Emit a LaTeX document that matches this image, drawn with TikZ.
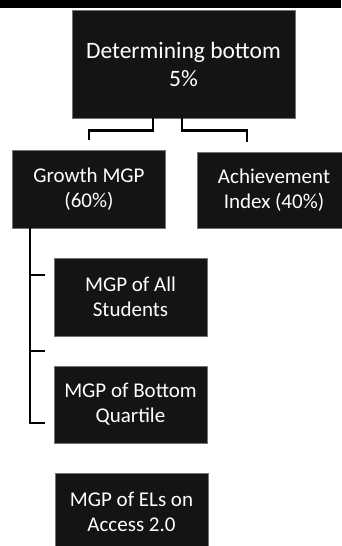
\documentclass[tikz,border=0pt]{standalone}
\usepackage{fontspec}
\setmainfont{Carlito}
\usetikzlibrary{positioning,calc}
\tikzset{
  darkbox/.style={fill=black!92, draw=black!55, line width=0.8pt, text=white,
    align=center, inner sep=2pt, minimum width=153pt, minimum height=78pt,
    font=\fontsize{21}{25}\selectfont},
  link/.style={line width=2.6pt, black},
}
\begin{document}
\begin{tikzpicture}[x=1pt,y=-1pt]
  \useasboundingbox (0,0) rectangle (341,546);
  % strip along the top edge
  \fill[black] (0,0) rectangle (341,8);
  \node[darkbox, minimum width=223pt, minimum height=108pt,
        font=\fontsize{23.5}{28}\selectfont] (top) at (183.5,64) {Determining bottom\\5\%};
  \node[darkbox] (growth) at (89,189) {Growth MGP\\(60\%)};
  \node[darkbox, minimum height=76pt] (achieve) at (274,190) {Achievement\\Index (40\%)};
  \node[darkbox] (all) at (130.5,297) {MGP of All\\Students};
  \node[darkbox, minimum height=77pt] (quart) at (130.5,404.5) {MGP of Bottom\\Quartile};
  \node[darkbox] (els) at (131.5,512) {MGP of ELs on\\Access 2.0};
  % links from the top box
  \draw[link] ([xshift=-30.5pt]top.south) -- ++(0,12) -| ([yshift=10pt]growth.north);
  \draw[link] ([xshift=-1.5pt]top.south) -- ++(0,12) -| ([xshift=-27pt,yshift=10pt]achieve.north);
  % spine under growth
  \coordinate (spine) at ([xshift=-59pt]growth.south);
  \draw[link] (spine) |- ([xshift=-9pt,yshift=-18.5pt]quart.west);
  \coordinate (tick) at ([xshift=-9pt,yshift=22pt]all.west);
  \draw[link] (spine |- tick) -- (tick);
  \coordinate (gap) at ($(all.south west)!0.5!(quart.north west)$);
  \draw[link] (spine |- gap) -- ([xshift=-9pt]gap);
\end{tikzpicture}
\end{document}
